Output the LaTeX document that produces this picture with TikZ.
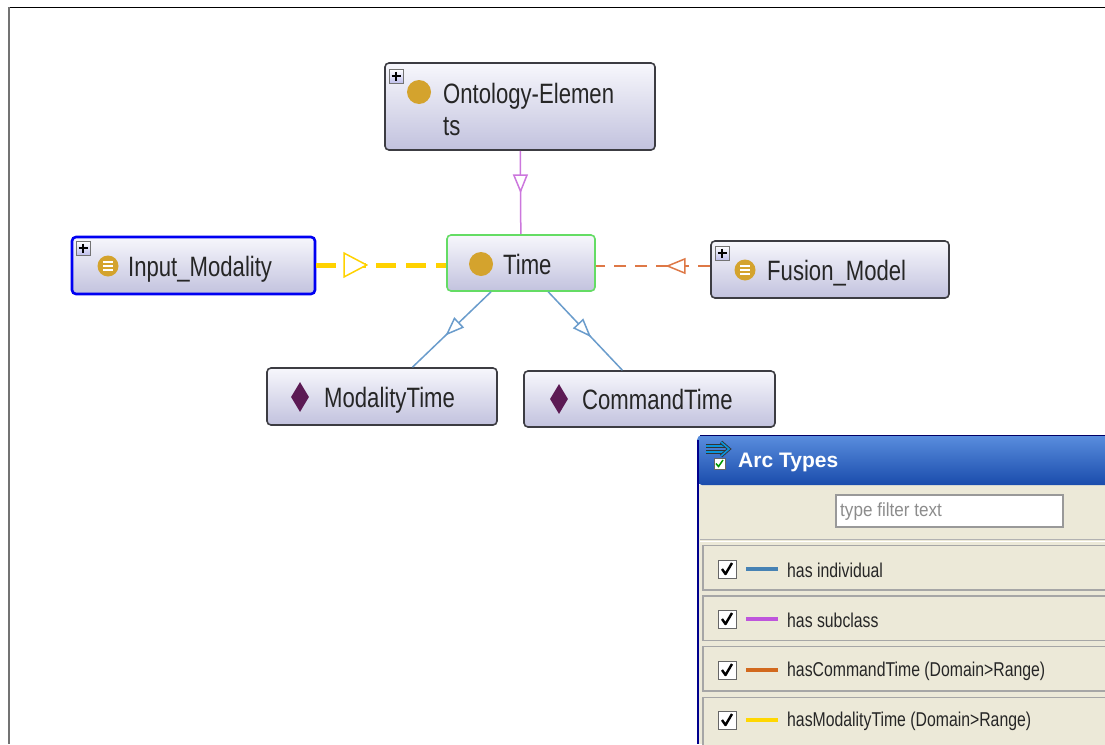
\documentclass[tikz,border=0pt]{standalone}
\usepackage{fontspec}
\setmainfont{Liberation Sans}
\newfontfamily\nf[FakeStretch=0.79]{Liberation Sans}
\newfontfamily\lf[FakeStretch=0.79]{Liberation Sans}
\newfontfamily\ff[FakeStretch=0.90]{Liberation Sans}
\usetikzlibrary{arrows.meta,decorations.markings,shapes.geometric,calc}
\definecolor{ntop}{RGB}{247,247,252}
\definecolor{nbot}{RGB}{194,194,222}
\definecolor{nborder}{RGB}{60,60,66}
\definecolor{gold}{RGB}{212,163,45}
\definecolor{dpurple}{RGB}{92,26,84}
\definecolor{subc}{RGB}{204,119,221}
\definecolor{yel}{RGB}{255,210,0}
\definecolor{ora}{RGB}{222,120,70}
\definecolor{indiv}{RGB}{106,156,204}
\definecolor{beige}{RGB}{236,233,216}
\definecolor{tbtop}{RGB}{90,142,222}
\definecolor{tbbot}{RGB}{26,76,172}
\definecolor{legind}{RGB}{70,130,180}
\definecolor{legsub}{RGB}{190,85,220}
\definecolor{legcmd}{RGB}{210,105,30}
\definecolor{legmod}{RGB}{255,215,0}
\definecolor{timeborder}{RGB}{100,220,100}
\tikzset{
  box/.style={rectangle, rounded corners=4pt, top color=ntop, bottom color=nbot,
    draw=nborder, line width=1.6pt, inner sep=0pt},
  lbl/.style={anchor=base west, inner sep=0pt, font=\nf\fontsize{28}{32}\selectfont, text=black!85},
  plusbox/.style={rectangle, top color=white, bottom color=black!30!blue!25, draw=black!55,
    line width=0.8pt, minimum size=14pt, inner sep=0pt},
  goldc/.style={circle, fill=gold, inner sep=0pt},
  dia/.style={diamond, fill=dpurple, inner sep=0pt, minimum width=18pt, minimum height=30pt},
  midtip/.style n args={3}{postaction={decorate}, decoration={markings,
    mark=at position #1 with {\pgfsetdash{}{0pt}\arrow{Triangle[fill=white, line width=1.5pt, length=#2, width=#3]}}}},
  legtxt/.style={anchor=west, inner sep=0pt, font=\lf\fontsize{20}{23}\selectfont, text=black!85},
  chk/.style={rectangle, draw=black!60, fill=white, line width=1pt, minimum size=18pt, inner sep=0pt},
  legline/.style={line width=4pt},
  rowbox/.style={draw=black!35, fill=beige, line width=1.2pt}
}
\newcommand{\plusmark}[1]{\draw[line width=1.4pt] ($(#1.center)+(-4.5,0)$) -- ($(#1.center)+(4.5,0)$) ($(#1.center)+(0,-4.5)$) -- ($(#1.center)+(0,4.5)$);}
\newcommand{\listmark}[1]{\draw[white, line width=1.5pt] ($(#1.center)+(-5,-4)$) -- ($(#1.center)+(5,-4)$) ($(#1.center)+(-5,0)$) -- ($(#1.center)+(5,0)$) ($(#1.center)+(-5,4)$) -- ($(#1.center)+(5,4)$);}
\newcommand{\checkmk}[1]{\draw[line width=2.4pt, line join=round] ($(#1.center)+(-5,0)$) -- ($(#1.center)+(-1.5,5)$) -- ($(#1.center)+(5,-6)$);}
\begin{document}
\begin{tikzpicture}[x=1pt,y=-1pt]
\useasboundingbox (0,0) rectangle (1105,744);
\fill[white] (0,0) rectangle (1105,744);
% outer frame
\draw[black, line width=1.5pt] (8,7.5) -- (1105,7.5);
\draw[black!55, line width=2pt] (8.5,7) -- (8.5,744);

% boxes
\node[box, minimum width=270pt, minimum height=87pt] (onto) at (520,106.5) {};
\node[box, draw=timeborder, minimum width=148pt, minimum height=56pt] (time) at (521,263) {};
\node[box, draw=blue!95!black, line width=2.6pt, minimum width=243pt, minimum height=57pt] (inmod) at (193.5,265.5) {};
\node[box, minimum width=238pt, minimum height=57pt] (fusion) at (830,269.5) {};
\node[box, minimum width=230pt, minimum height=57pt] (modt) at (382,396.5) {};
\node[box, minimum width=251pt, minimum height=56pt] (cmdt) at (649.5,399) {};

% icons
\node[plusbox] (p1) at (396,76) {}; \plusmark{p1}
\node[plusbox] (p2) at (83,248) {}; \plusmark{p2}
\node[plusbox] (p3) at (722,253) {}; \plusmark{p3}
\node[goldc, minimum size=24pt] (c1) at (419,92) {};
\node[goldc, minimum size=24pt] (c2) at (481,264) {};
\node[goldc, minimum size=21pt] (c3) at (108,266) {}; \listmark{c3}
\node[goldc, minimum size=21pt] (c4) at (745,270) {}; \listmark{c4}
\node[dia] (d1) at (300,397) {};
\node[dia] (d2) at (559,399) {};

% labels
\node[lbl] (t1a) at (443,103) {Ontology-Elemen};
\node[lbl] (t1b) at (443,135) {ts};
\node[lbl] (t2) at (503,274) {Time};
\node[lbl] (t3) at (128,276) {Input\_Modality};
\node[lbl] (t4) at (767,280) {Fusion\_Model};
\node[lbl] (t5) at (324,407) {ModalityTime};
\node[lbl] (t6) at (582,409) {CommandTime};

% connectors
\draw[subc, line width=1.5pt, midtip={0.51}{19pt}{15pt}] (onto) -- (time);
\draw[yel, line width=5pt, dash pattern=on 20pt off 10pt, midtip={0.40}{25pt}{26pt}] ($(inmod.east)+(0,-0.5)$) -- ($(time.west)+(0,2)$);
\draw[ora, line width=1.5pt, dash pattern=on 12pt off 9pt, midtip={0.39}{20pt}{16pt}] ($(fusion.west)+(0,-3.5)$) -- ($(time.east)+(0,3)$);
\draw[indiv, line width=1.5pt, midtip={0.58}{19pt}{14pt}] (time) -- (modt);
\draw[indiv, line width=1.5pt, midtip={0.58}{19pt}{14pt}] (time) -- (cmdt);

% Arc Types panel
\fill[beige] (697,485) rectangle (1105,744);
\shade[top color=tbtop, bottom color=tbbot, rounded corners=5pt] (697,485) -- (697,435) -- (1110,435) -- (1110,485) -- cycle;
\draw[blue!40!black, line width=1.2pt] (700,435.5) -- (1105,435.5);
\draw[blue!55!black, line width=2.4pt] (698.2,440) -- (698.2,744);
% title icon
\draw[black!80, line width=4pt] (706,446) -- (725,446) (706,451.5) -- (725,451.5);
\draw[cyan!80!blue, line width=2pt] (706,446) -- (725,446) (706,451.5) -- (725,451.5);
\draw[black!80, line width=3.4pt, line join=miter] (721,442) -- (729,449) -- (721,456);
\draw[cyan!80!blue, line width=1.6pt, line join=miter] (721,442) -- (729,449) -- (721,456);
\node[rectangle, draw=black!60, fill=white, minimum size=11pt, inner sep=0pt] (tchk) at (719.5,463.5) {};
\draw[green!60!black, line width=1.5pt] ($(tchk.center)+(-3.5,0)$) -- ($(tchk.center)+(-1,3)$) -- ($(tchk.center)+(3.5,-3.5)$);
\node[anchor=west, inner sep=0pt, text=white, font=\bfseries\fontsize{21}{24}\selectfont] (title) at (738,462) {Arc Types};
% filter
\node[rectangle, draw=black!40, fill=white, line width=1.2pt, minimum width=227pt, minimum height=32pt, inner sep=0pt] (filter) at (949.5,511) {};
\node[anchor=west, inner sep=0pt, text=black!45, font=\ff\fontsize{19}{22}\selectfont] (ftxt) at (840,512) {type filter text};
\draw[black!30, line width=1pt] (700,539) -- (1105,539);
\draw[white, line width=1pt] (700,541) -- (1105,541);
% rows
\draw[rowbox] (703,545.5) rectangle (1112,590);
\draw[rowbox] (703,596) rectangle (1112,640.5);
\draw[rowbox] (703,646.5) rectangle (1112,691);
\draw[rowbox] (703,697.5) rectangle (1112,750);
\node[chk] (k1) at (727,569) {}; \checkmk{k1}
\node[chk] (k2) at (727,619) {}; \checkmk{k2}
\node[chk] (k3) at (727,670) {}; \checkmk{k3}
\node[chk] (k4) at (727,720) {}; \checkmk{k4}
\draw[legline, legind] (746,569) -- (778,569);
\draw[legline, legsub] (746,619) -- (778,619);
\draw[legline, legcmd] (746,670) -- (778,670);
\draw[legline, legmod] (746,720) -- (778,720);
\node[legtxt] (l1) at (787,570) {has individual};
\node[legtxt] (l2) at (787,620) {has subclass};
\node[legtxt] (l3) at (787,671) {hasCommandTime (Domain>Range)};
\node[legtxt] (l4) at (787,721) {hasModalityTime (Domain>Range)};
\end{tikzpicture}
\end{document}
